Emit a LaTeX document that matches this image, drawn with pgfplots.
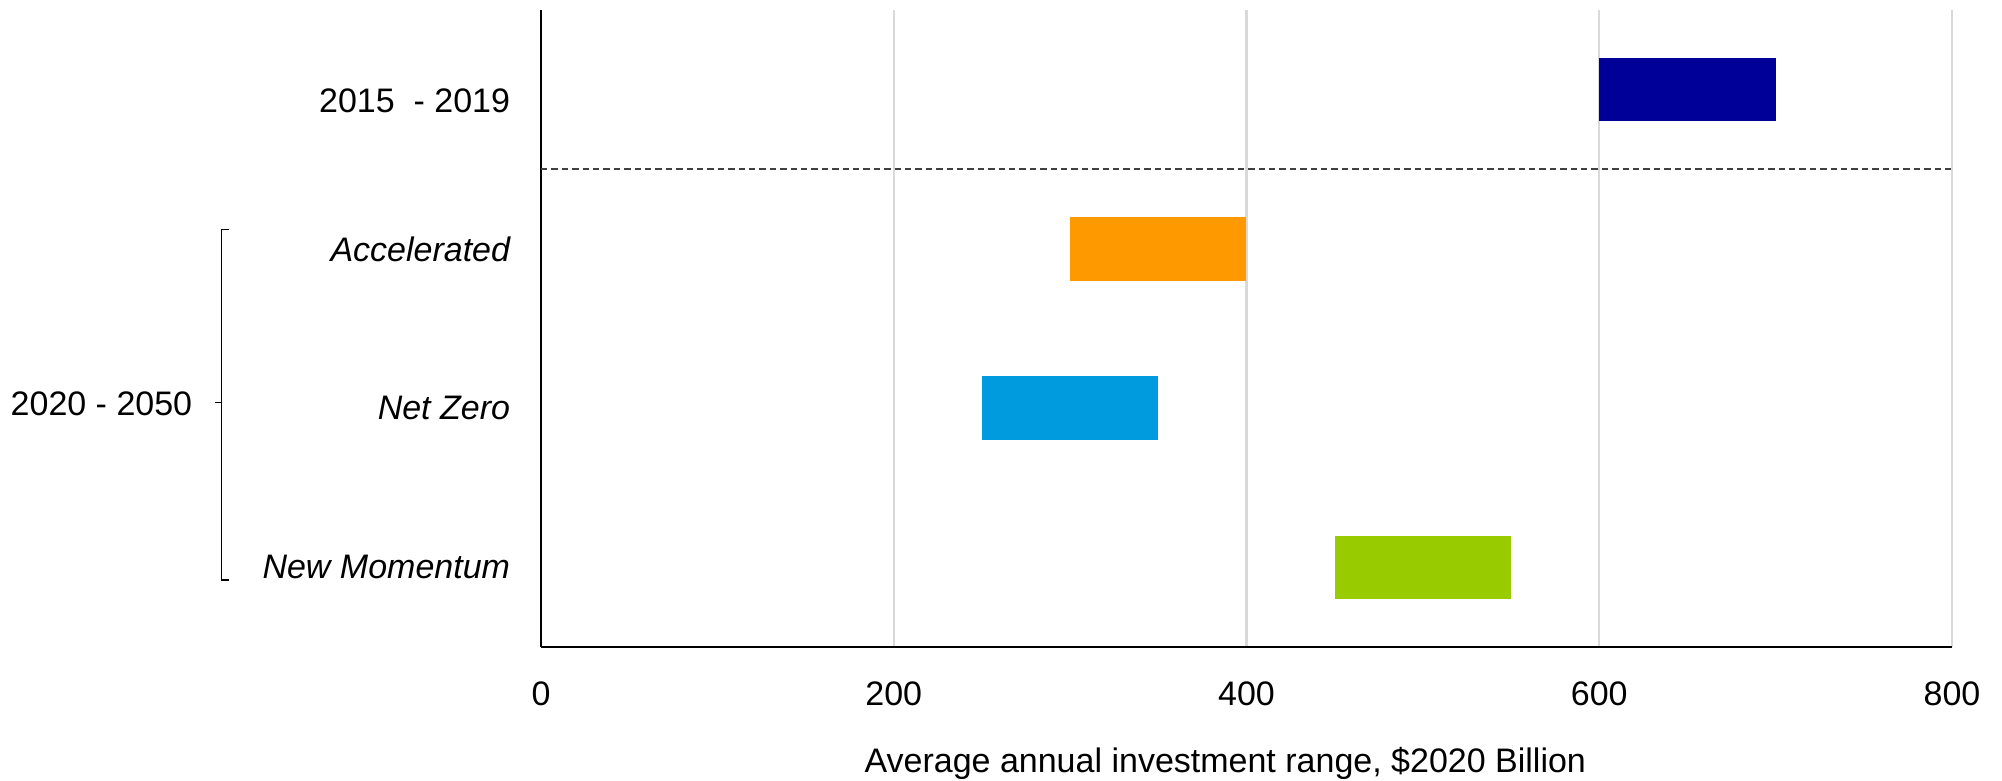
\documentclass[border=0pt]{standalone}
\usepackage{fontspec}
\setmainfont{Liberation Sans}
\usepackage{pgfplots}
\pgfplotsset{compat=1.18}
\definecolor{cnavy}{HTML}{000099}
\definecolor{corange}{HTML}{FF9900}
\definecolor{cblue}{HTML}{009ADE}
\definecolor{cgreen}{HTML}{99CC00}
\begin{document}
\begin{tikzpicture}
\path[use as bounding box] (-135.25pt,-33.5pt) rectangle (365.25pt,161.75pt);
\begin{axis}[
  at={(0,0)}, anchor=south west,
  scale only axis, width=352.75pt, height=159.25pt,
  xmin=0, xmax=800, ymin=-0.5, ymax=3.5,
  xtick={0,200,400,600,800},
  ytick={0,1,2,3},
  yticklabels={{\itshape New Momentum},{\itshape Net Zero},{\itshape Accelerated},{\raisebox{-2.75pt}[\height][\depth]{2015\ \ - 2019}}},
  xmajorgrids,
  grid style={color=black!15, line width=0.6pt},
  axis x line*=bottom, axis y line*=left,
  axis line style={black, line width=0.7pt, -},
  major tick length=0pt,
  tick label style={font=\fontsize{8.5}{10}\selectfont},
  /pgf/number format/assume math mode=true,
  xticklabel style={yshift=-5.2pt},
  yticklabel style={xshift=-4.2pt},
  xlabel={Average annual investment range, \$2020 Billion},
  xlabel style={font=\fontsize{8.5}{10}\selectfont, at={(axis description cs:0.485,0)}, anchor=base, yshift=-31.3pt},
  clip=false,
]
\addplot[fill=cnavy, draw=none] coordinates {(600,2.8) (700,2.8) (700,3.2) (600,3.2)};
\addplot[fill=corange, draw=none] coordinates {(300,1.8) (400,1.8) (400,2.2) (300,2.2)};
\addplot[fill=cblue, draw=none] coordinates {(250,0.8) (350,0.8) (350,1.2) (250,1.2)};
\addplot[fill=cgreen, draw=none] coordinates {(450,-0.2) (550,-0.2) (550,0.2) (450,0.2)};
\draw[black!75, line width=0.4pt, dash pattern=on 1.6pt off 1pt] (axis cs:0,2.5) -- (axis cs:800,2.5);
\draw[black, line width=0.35pt] (axis cs:-177,2.12) -- (axis cs:-181,2.12) -- (axis cs:-181,-0.08) -- (axis cs:-177,-0.08);
\draw[black, line width=0.35pt] (axis cs:-181,1.034) -- (axis cs:-184.8,1.034);
\node[anchor=east, inner sep=0pt, font=\fontsize{8.5}{10}\selectfont] at (axis cs:-197.3,1.03) {2020 - 2050};
\end{axis}
\end{tikzpicture}
\end{document}
